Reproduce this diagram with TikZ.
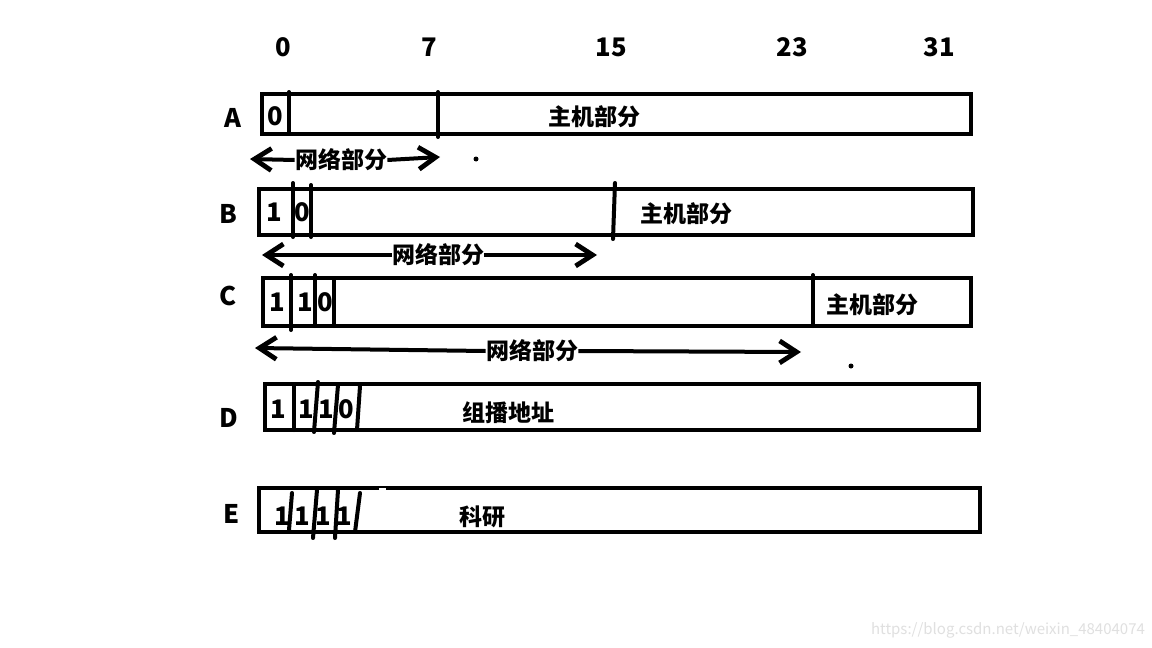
\documentclass[tikz,border=0pt]{standalone}
\usepackage{fontspec}
\setmainfont{Noto Sans CJK SC}
\usetikzlibrary{arrows.meta}
\begin{document}
\begin{tikzpicture}[x=0.5pt,y=-0.5pt,
  box/.style={draw,line width=2pt},
  bar/.style={line width=2pt,line cap=round},
  lbl/.style={font=\bfseries\fontsize{11.5}{12}\selectfont,inner sep=0pt},
  bit/.style={font=\bfseries\fontsize{12.8}{13}\selectfont,inner sep=0pt},
  arr/.style={line width=2pt,-{Straight Barb[length=8.5pt,width=11pt,line width=2.4pt]}},
  dot/.style={fill=black}]
\useasboundingbox[fill=white] (0,0) rectangle (1152,648);
% top scale
\node[bit] (s0) at (283,47) {0};
\node[bit] (s7) at (429,47) {7};
\node[bit] (s15) at (611,47) {15};
\node[bit] (s23) at (792,47) {23};
\node[bit] (s31) at (939,47) {31};
% Row A
\node[bit] (rA) at (233,118) {A};
\draw[box] (262,94) rectangle (971,134);
\draw[bar] (289,92) -- (289,132);
\draw[bar] (438,92) -- (438,137);
\node[bit] (a0) at (275,116) {0};
\node[lbl] (ha) at (594,117) {主机部分};
\coordinate (aL) at (250,159);
\coordinate (aR) at (440,157);
\node[lbl] (na) at (341,160) {网络部分};
\draw[arr] (na.west) -- (aL);
\draw[arr] (na.east) -- (aR);
\fill[dot] (476,159) circle (2.5);
% Row B
\node[bit] (rB) at (228,214) {B};
\draw[box] (259,189) rectangle (973,235);
\draw[bar] (293,183) -- (293,237);
\draw[bar] (311,185) -- (311,237);
\draw[bar] (615,183) -- (613,239);
\node[bit] (b1) at (274,212) {1};
\node[bit] (b2) at (302,212) {0};
\node[lbl] (hb) at (686,214) {主机部分};
\coordinate (bL) at (262,255);
\coordinate (bR) at (597,255);
\node[lbl] (nb) at (438,255) {网络部分};
\draw[arr] (nb.west) -- (bL);
\draw[arr] (nb.east) -- (bR);
% Row C
\node[bit] (rC) at (228,296) {C};
\draw[box] (263,278) rectangle (971,326);
\draw[bar] (291,275) -- (291,330);
\draw[bar] (315,275) -- (315,326);
\draw[bar] (334,278) -- (334,326);
\draw[bar] (813,275) -- (813,326);
\node[bit] (c1) at (277,302) {1};
\node[bit] (c2) at (305,302) {1};
\node[bit] (c3) at (325,302) {0};
\node[lbl] (hc) at (872,305) {主机部分};
\coordinate (cL) at (255,348);
\coordinate (cR) at (801,352);
\node[lbl] (nc) at (532,351) {网络部分};
\draw[arr] (nc.west) -- (cL);
\draw[arr] (nc.east) -- (cR);
\fill[dot] (851,366) circle (2.5);
% Row D
\node[bit] (rD) at (229,418) {D};
\draw[box] (265,384) rectangle (979,430);
\draw[bar] (294,385) -- (294,430);
\draw[bar] (318,382) -- (314,432);
\draw[bar] (338,385) -- (334,433);
\draw[bar] (360,386) -- (357,430);
\node[bit] (d1) at (278,409) {1};
\node[bit] (d2) at (306,409) {1};
\node[bit] (d3) at (326,409) {1};
\node[bit] (d4) at (346,409) {0};
\node[lbl] (hd) at (508,413) {组播地址};
% Row E
\node[bit] (rE) at (232,514) {E};
\draw[box] (259,488) rectangle (980,532);
\draw[bar] (292,493) -- (289,530);
\draw[bar] (317,490) -- (313,538);
\draw[bar] (338,490) -- (335,538);
\draw[bar] (360,493) -- (355,532);
\fill[white] (379,487.5) rectangle (386,490);
\node[bit] (e1) at (282,516) {1};
\node[bit] (e2) at (302,516) {1};
\node[bit] (e3) at (323,516) {1};
\node[bit] (e4) at (344,516) {1};
\node[lbl] (he) at (482,517) {科研};
% watermark
\node[font=\fontsize{7.5}{8}\selectfont,text=black!12,inner sep=0pt] (wm) at (1008,630) {https://blog.csdn.net/weixin\_48404074};
\end{tikzpicture}
\end{document}
